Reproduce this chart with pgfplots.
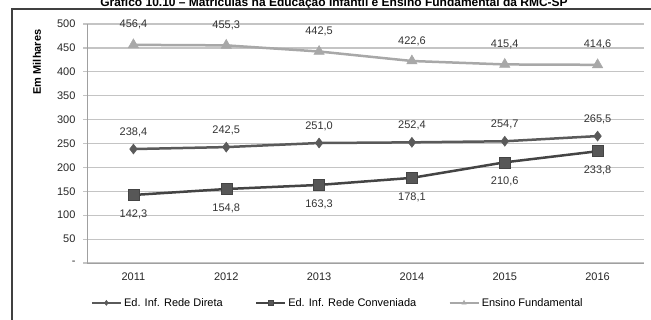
\documentclass[border=0pt]{standalone}
\usepackage{pgfplots}
\pgfplotsset{compat=1.18}
\usepackage{fontspec}
\setmainfont{Liberation Sans}
\definecolor{cdir}{HTML}{5A5A5A}
\definecolor{cconv}{HTML}{444444}
\definecolor{cfund}{HTML}{A8A8A8}
\definecolor{gridgray}{HTML}{C4C4C4}
\definecolor{axgray}{HTML}{A0A0A0}
\newcommand{\fs}{\fontsize{11bp}{13bp}\selectfont}
\begin{document}
\begin{tikzpicture}
\begin{axis}[
  at={(87bp,57bp)}, anchor=south west,
  scale only axis, width=557bp, height=239bp,
  xmin=-0.5, xmax=5.5, ymin=0, ymax=500,
  /pgf/number format/assume math mode=true,
  axis x line*=bottom, axis y line*=left,
  axis line style={-, color=axgray, line width=1bp},
  ytick={0,50,100,150,200,250,300,350,400,450,500},
  yticklabels={-,50,100,150,200,250,300,350,400,450,500},
  ymajorgrids, grid style={color=gridgray, line width=1.2bp},
  ytick style={color=gridgray, line width=1.2bp}, ytick align=outside, major tick length=4bp,
  xtick={0,1,2,3,4,5}, xticklabels={2011,2012,2013,2014,2015,2016},
  xtick style={draw=none},
  minor xtick={-0.5,0.5,1.5,2.5,3.5,4.5,5.5},
  minor x tick style={color=axgray, line width=1bp},
  xtick align=outside, minor tick length=4bp,
  ticklabel style={font=\fs, color=black!85},
  yticklabel style={xshift=-4bp},
  xticklabel style={yshift=-2bp},
  legend style={at={(0.45,-0.167)}, anchor=center, draw=none, legend columns=3, font=\fs,
    /tikz/every even column/.append style={column sep=30bp}, inner sep=0pt,
    nodes={inner xsep=2bp}},
  legend cell align=left,
  legend image code/.code={
    \draw[#1, mark=none] (0bp,0bp) -- (29bp,0bp);
    \draw[#1, mark size=2.5bp] plot coordinates {(14.5bp,0bp)};
  },
  nodes near coords={\pgfmathprintnumber[fixed,fixed zerofill,precision=1,use comma,assume math mode=true]{\pgfplotspointmeta}},
  every node near coord/.append style={font=\fs, anchor=center, color=black!80},
]
\addplot[color=cdir, line width=2.5bp, mark=diamond*, mark size=5bp, mark options={fill=cdir, line width=0.5bp},
  every node near coord/.append style={yshift=17bp}]
  coordinates {(0,238.4) (1,242.5) (2,251.0) (3,252.4) (4,254.7) (5,265.5)};
\addlegendentry{Ed. Inf. Rede Direta}
\addplot[color=cconv, line width=2.5bp, mark=square*, mark size=5.5bp, mark options={fill=cconv!90, line width=0.5bp},
  every node near coord/.append style={yshift=-19bp}]
  coordinates {(0,142.3) (1,154.8) (2,163.3) (3,178.1) (4,210.6) (5,233.8)};
\addlegendentry{Ed. Inf. Rede Conveniada}
\addplot[color=cfund, line width=2.5bp, mark=triangle*, mark size=6bp, mark options={fill=cfund, line width=0.5bp},
  every node near coord/.append style={yshift=20bp}]
  coordinates {(0,456.4) (1,455.3) (2,442.5) (3,422.6) (4,415.4) (5,414.6)};
\addlegendentry{Ensino Fundamental}
\end{axis}
\node[font=\bfseries\fontsize{11bp}{13bp}\selectfont, rotate=90] at (37bp,258bp) {Em Milhares};
\node[font=\bfseries\fontsize{12bp}{14bp}\selectfont, anchor=base] at (334bp,313bp) {Gráfico 10.10 – Matrículas na Educação Infantil e Ensino Fundamental da RMC-SP};
\draw[line width=1.2bp, color=black!75] (12bp,-10bp) rectangle (662bp,311bp);
\pgfresetboundingbox
\useasboundingbox (0,0) rectangle (651bp,320bp);
\end{tikzpicture}
\end{document}
